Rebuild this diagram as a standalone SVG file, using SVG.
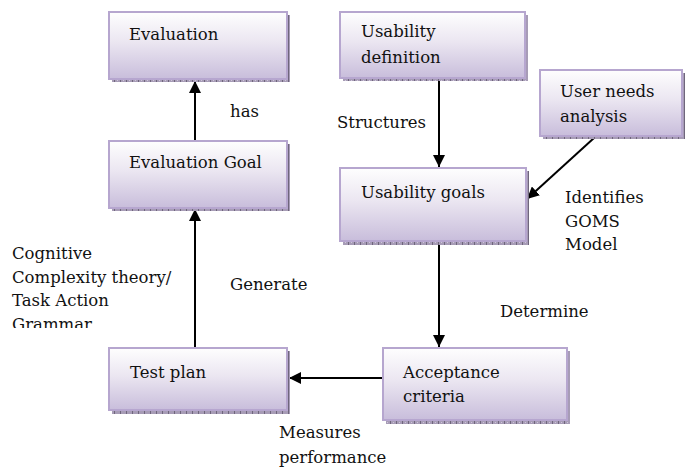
<svg xmlns="http://www.w3.org/2000/svg" width="693" height="469" viewBox="0 0 693 469">
  <defs>
    <linearGradient id="boxFill" x1="0" y1="0" x2="0" y2="1">
      <stop offset="0" stop-color="#fefefe"/>
      <stop offset="0.45" stop-color="#ebe6f1"/>
      <stop offset="1" stop-color="#c8bddb"/>
    </linearGradient>
    <pattern id="shadowTicks" width="6" height="6" patternUnits="userSpaceOnUse">
      <rect width="6" height="6" fill="#a79cb6"/>
      <rect x="0" y="0" width="1" height="6" fill="#6f667c"/>
      <rect x="3" y="2" width="1" height="1" fill="#cfc6da"/>
    </pattern>
    <marker id="arrow" viewBox="0 0 12 12" refX="12" refY="6" markerWidth="12" markerHeight="12" markerUnits="userSpaceOnUse" orient="auto">
      <path d="M0,0 L12,6 L0,12 Z" fill="#000"/>
    </marker>
    <clipPath id="labelClip">
      <rect x="0" y="230" width="190" height="98"/>
    </clipPath>
  </defs>
  <style>
    .box { fill: url(#boxFill); stroke: #b6a6cf; stroke-width: 2; }
    .shadow { fill: url(#shadowTicks); }
    text { font-family: "DejaVu Serif", "Liberation Serif", serif; font-size: 16.5px; fill: #111; }
    .edge { stroke: #000; stroke-width: 2; fill: none; marker-end: url(#arrow); }
  </style>

  <rect width="693" height="469" fill="#fff"/>

  <g id="connectors">
    <line class="edge" x1="195" y1="141" x2="195" y2="81"/>
    <line class="edge" x1="439" y1="79" x2="439" y2="167"/>
    <line class="edge" x1="594" y1="138" x2="527" y2="199"/>
    <line class="edge" x1="439" y1="243" x2="439" y2="347"/>
    <line class="edge" x1="383" y1="378" x2="289" y2="378"/>
    <line class="edge" x1="195" y1="348" x2="195" y2="209"/>
  </g>

  <g id="evaluation">
    <rect class="shadow" x="112" y="15" width="178" height="67"/>
    <rect class="box" x="109" y="12" width="178" height="67"/>
    <text x="129" y="40">Evaluation</text>
  </g>

  <g id="usability-definition">
    <rect class="shadow" x="343" y="15" width="185" height="66"/>
    <rect class="box" x="340" y="12" width="185" height="66"/>
    <text x="361" y="37">Usability</text>
    <text x="361" y="63">definition</text>
  </g>

  <g id="user-needs-analysis">
    <rect class="shadow" x="543" y="73" width="142" height="66"/>
    <rect class="box" x="540" y="70" width="142" height="66"/>
    <text x="560" y="97">User needs</text>
    <text x="560" y="122">analysis</text>
  </g>

  <g id="evaluation-goal">
    <rect class="shadow" x="112" y="144" width="178" height="67"/>
    <rect class="box" x="109" y="141" width="178" height="67"/>
    <text x="129" y="168">Evaluation Goal</text>
  </g>

  <g id="usability-goals">
    <rect class="shadow" x="343" y="171" width="186" height="74"/>
    <rect class="box" x="340" y="168" width="186" height="73"/>
    <text x="361" y="198">Usability goals</text>
  </g>

  <g id="test-plan">
    <rect class="shadow" x="112" y="351" width="178" height="63"/>
    <rect class="box" x="109" y="348" width="178" height="62"/>
    <text x="130" y="378">Test plan</text>
  </g>

  <g id="acceptance-criteria">
    <rect class="shadow" x="386" y="351" width="184" height="73"/>
    <rect class="box" x="383" y="348" width="184" height="72"/>
    <text x="403" y="378">Acceptance</text>
    <text x="403" y="402">criteria</text>
  </g>

  <g id="labels">
    <text x="230" y="117">has</text>
    <text x="337" y="128">Structures</text>
    <text x="565" y="203">Identifies</text>
    <text x="565" y="227">GOMS</text>
    <text x="565" y="250">Model</text>
    <g clip-path="url(#labelClip)">
      <text x="12" y="259">Cognitive</text>
      <text x="12" y="283">Complexity theory/</text>
      <text x="12" y="306">Task Action</text>
      <text x="12" y="330">Grammar</text>
    </g>
    <text x="230" y="290">Generate</text>
    <text x="500" y="317">Determine</text>
    <text x="279" y="438">Measures</text>
    <text x="279" y="463">performance</text>
  </g>
</svg>
